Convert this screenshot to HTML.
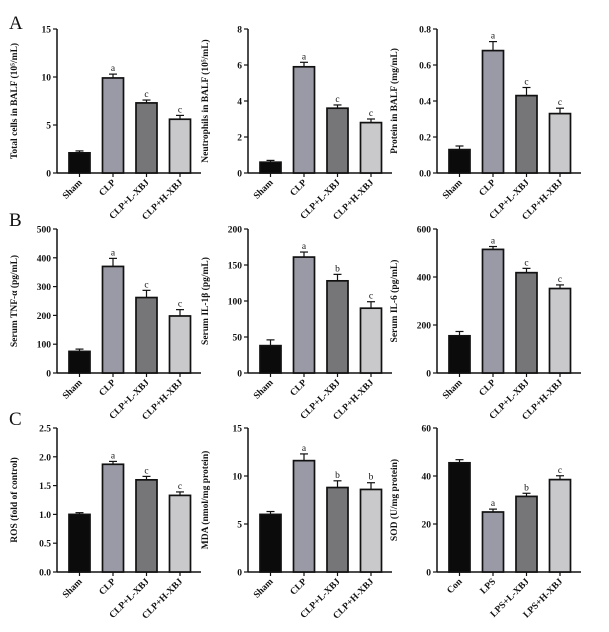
<!DOCTYPE html>
<html><head><style>body{margin:0;background:#fff}svg{display:block}text{font-family:"Liberation Serif",serif;fill:#111}</style></head>
<body><svg id="s" width="609" height="632" xmlns="http://www.w3.org/2000/svg"></svg>
<script>
const s=document.getElementById('s');let h='';
const cols=['#0b0b0b','#9a9aa6','#767679','#c9c9cb'];
const grpA=['Sham','CLP','CLP+L-XBJ','CLP+H-XBJ'],grpC=['Con','LPS','LPS+L-XBJ','LPS+H-XBJ'];
const P=[
[57,29,'Total cells in BALF (10⁵/mL)',[0,5,10,15],15,0,[2.1,9.9,7.3,5.6],[.2,.4,.3,.4],['','a','c','c'],grpA],
[248,29,'Neutrophils in BALF (10⁵/mL)',[0,2,4,6,8],8,0,[.6,5.9,3.6,2.8],[.1,.25,.18,.2],['','a','c','c'],grpA],
[437,29,'Protein in BALF (mg/mL)',[0,.2,.4,.6,.8],.8,1,[.13,.68,.43,.33],[.02,.05,.045,.03],['','a','c','c'],grpA],
[57,229,'Serum TNF-α (pg/mL)',[0,100,200,300,400,500],500,0,[75,370,262,198],[8,28,25,22],['','a','c','c'],grpA],
[248,229,'Serum IL-1β (pg/mL)',[0,50,100,150,200],200,0,[38,161,128,90],[8,7,9,9],['','a','b','c'],grpA],
[437,229,'Serum IL-6 (pg/mL)',[0,200,400,600],600,0,[155,515,418,352],[18,12,18,15],['','a','c','c'],grpA],
[57,428,'ROS (fold of control)',[0,.5,1,1.5,2,2.5],2.5,1,[1.0,1.87,1.6,1.33],[.03,.05,.06,.06],['','a','c','c'],grpA],
[248,428,'MDA (nmol/mg protein)',[0,5,10,15],15,0,[6.0,11.6,8.8,8.6],[.3,.7,.7,.7],['','a','b','b'],grpA],
[437,428,'SOD (U/mg protein)',[0,20,40,60],60,0,[45.5,25,31.5,38.5],[1.3,1.2,1.3,1.6],['','a','b','c'],grpC]];
for(const [ax,top,lab,ticks,max,dec,v,e,L,g] of P){
 const bot=top+144,H=144,y=t=>bot-t/max*H;
 h+=`<line x1="${ax}" y1="${top}" x2="${ax}" y2="${bot}" stroke="#111" stroke-width="1.5"/><line x1="${ax}" y1="${bot}" x2="${ax+144}" y2="${bot}" stroke="#111" stroke-width="1.5"/>`;
 for(const t of ticks){h+=`<line x1="${ax-4}" y1="${y(t)}" x2="${ax}" y2="${y(t)}" stroke="#111" stroke-width="1.2"/><text x="${ax-6}" y="${y(t)+3.5}" font-size="9.5" font-weight="bold" text-anchor="end">${t.toFixed(dec)}</text>`;}
 h+=`<text transform="translate(${ax-40},${top+72}) rotate(-90)" font-size="9.5" font-weight="bold" text-anchor="middle">${lab}</text>`;
 for(let i=0;i<4;i++){const x0=ax+12+i*33.5,cx=x0+10.5,yt=y(v[i]),ye=y(v[i]+e[i]);
  h+=`<line x1="${cx}" y1="${ye}" x2="${cx}" y2="${yt}" stroke="#111" stroke-width="1.2"/><line x1="${cx-4}" y1="${ye}" x2="${cx+4}" y2="${ye}" stroke="#111" stroke-width="1.2"/>`;
  h+=`<rect x="${x0}" y="${yt}" width="21" height="${bot-yt}" fill="${cols[i]}" stroke="#111" stroke-width="1.7"/>`;
  if(L[i])h+=`<text x="${cx}" y="${ye-3}" font-size="9.5" text-anchor="middle">${L[i]}</text>`;
  h+=`<line x1="${cx}" y1="${bot}" x2="${cx}" y2="${bot+4}" stroke="#111" stroke-width="1.2"/><text transform="translate(${cx+3},${bot+10}) rotate(-45)" font-size="9.5" font-weight="bold" text-anchor="end">${g[i]}</text>`;}
}
h+=`<text x="9" y="29" font-size="19">A</text><text x="9" y="226" font-size="19">B</text><text x="9" y="425" font-size="19">C</text>`;
s.innerHTML=h;
</script></body></html>
